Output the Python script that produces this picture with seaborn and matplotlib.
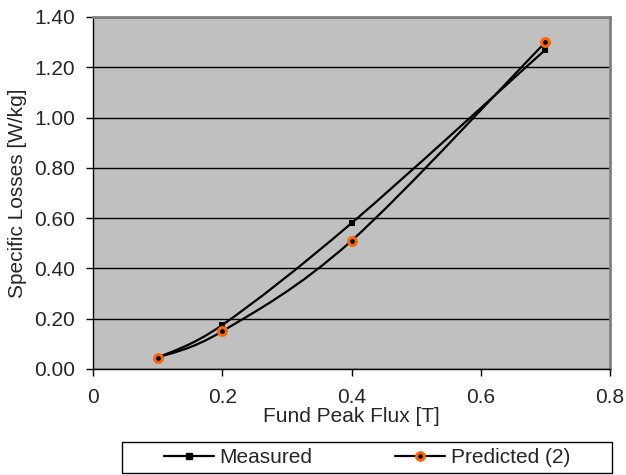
import numpy as np
import pandas as pd
import matplotlib
matplotlib.use("Agg")
import matplotlib.pyplot as plt
import seaborn as sns
from matplotlib.path import Path
from matplotlib.patches import PathPatch, Rectangle
from matplotlib.lines import Line2D

# data
flux = [0.1, 0.2, 0.4, 0.7]
measured = [0.045, 0.175, 0.58, 1.27]
predicted = [0.045, 0.15, 0.51, 1.30]
xticks = [0, 0.2, 0.4, 0.6, 0.8]
xtick_labels = ["0", "0.2", "0.4", "0.6", "0.8"]
yticks = [0.0, 0.2, 0.4, 0.6, 0.8, 1.0, 1.2, 1.4]

df = pd.DataFrame({"Fund Peak Flux [T]": flux + flux,
                   "Specific Losses [W/kg]": measured + predicted,
                   "Series": ["Measured"] * 4 + ["Predicted (2)"] * 4})

sns.set_style("white")
plt.rcParams["font.family"] = ["Liberation Sans", "DejaVu Sans"]
FS = 15

fig = plt.figure(figsize=(6.26, 4.75), dpi=100)
ax = fig.add_axes([93 / 626, 1 - 369 / 475, 517 / 626, 352 / 475])
ax.set_facecolor("#C0C0C0")


def smooth_path(xs, ys):
    # excel-like smoothed line: catmull-rom segments as cubic beziers
    pts = np.column_stack([xs, ys])
    n = len(pts)
    verts = [pts[0]]
    codes = [Path.MOVETO]
    for i in range(n - 1):
        p0 = pts[max(i - 1, 0)]
        p1 = pts[i]
        p2 = pts[i + 1]
        p3 = pts[min(i + 2, n - 1)]
        c1 = p1 + (p2 - p0) / 6.0
        c2 = p2 - (p3 - p1) / 6.0
        verts += [c1, c2, p2]
        codes += [Path.CURVE4] * 3
    return Path(verts, codes)


for name in ["Measured", "Predicted (2)"]:
    sub = df[df["Series"] == name]
    ax.add_patch(PathPatch(smooth_path(sub["Fund Peak Flux [T]"].values,
                                       sub["Specific Losses [W/kg]"].values),
                           facecolor="none", edgecolor="black", lw=1.6, zorder=3))

sub = df[df["Series"] == "Measured"]
sns.scatterplot(data=sub, x="Fund Peak Flux [T]", y="Specific Losses [W/kg]",
                marker="s", color="black", s=22, linewidth=0, zorder=4, ax=ax)
sub = df[df["Series"] == "Predicted (2)"]
sns.scatterplot(data=sub, x="Fund Peak Flux [T]", y="Specific Losses [W/kg]",
                marker="o", color="black", edgecolor="#FF6600", s=32, linewidth=2.2,
                zorder=5, ax=ax)

ax.set_xlim(0, 0.8)
ax.set_ylim(0, 1.4)
ax.set_xticks(xticks)
ax.set_xticklabels(xtick_labels)
ax.set_yticks(yticks)
ax.set_yticklabels([f"{v:.2f}" for v in yticks])
ax.yaxis.grid(True, color="black", lw=1)
ax.xaxis.grid(False)
ax.set_axisbelow(True)
ax.tick_params(axis="both", which="both", direction="out", length=5, width=1,
               color="black", labelsize=FS, left=True, bottom=True)
ax.tick_params(axis="x", pad=9)
ax.tick_params(axis="y", pad=8)
ax.set_xlabel("Fund Peak Flux [T]", fontsize=FS, labelpad=0)
ax.set_ylabel("Specific Losses [W/kg]", fontsize=FS, labelpad=5)

for side in ["left", "bottom"]:
    ax.spines[side].set_color("black")
    ax.spines[side].set_linewidth(1)
for side in ["top", "right"]:
    ax.spines[side].set_color("#808080")
    ax.spines[side].set_linewidth(2)

# legend box below the plot
fig.add_artist(Rectangle((122 / 626, 1 - 473 / 475), 490 / 626, 31 / 475,
                         transform=fig.transFigure, facecolor="white",
                         edgecolor="black", lw=1))
handles = [Line2D([], [], color="black", lw=1.6, marker="s", markersize=4.5),
           Line2D([], [], color="black", lw=1.6, marker="o", markersize=5.5,
                  markerfacecolor="black", markeredgecolor="#FF6600",
                  markeredgewidth=2.2)]
fig.legend(handles, ["Measured", "Predicted (2)"], ncol=2,
           loc="center", bbox_to_anchor=(367 / 626, 1 - 457.5 / 475),
           fontsize=FS, frameon=False, handlelength=2.4, handletextpad=0.25,
           columnspacing=4.0, borderpad=0, borderaxespad=0)

fig.savefig("out.png", dpi=100)
